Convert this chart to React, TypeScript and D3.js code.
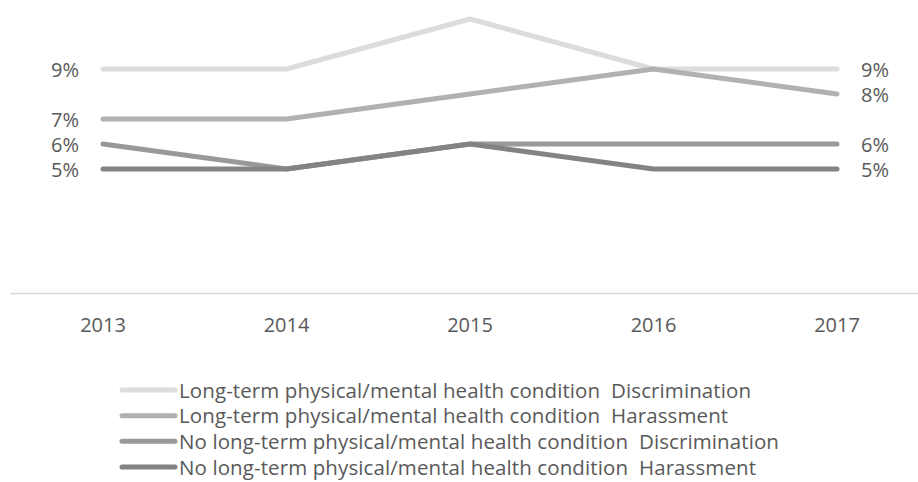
import React from "react";
import * as d3 from "d3";

const years = ["2013", "2014", "2015", "2016", "2017"];
const seriesNames = [
  "Long-term physical/mental health condition  Discrimination",
  "Long-term physical/mental health condition  Harassment",
  "No long-term physical/mental health condition  Discrimination",
  "No long-term physical/mental health condition  Harassment",
];
const ltDiscrimination = [9, 9, 11, 9, 9];
const ltHarassment = [7, 7, 8, 9, 8];
const noLtDiscrimination = [6, 5, 6, 6, 6];
const noLtHarassment = [5, 5, 6, 5, 5];
const seriesValues = [ltDiscrimination, ltHarassment, noLtDiscrimination, noLtHarassment];
const colors = ["#dcdcdc", "#b1b1b1", "#999999", "#838383"];

const W = 918;
const H = 482;
const FONT = "'Open Sans', 'Segoe UI', sans-serif";
const TEXT = "#595959";

export default function App() {
  const x = d3.scalePoint<string>().domain(years).range([103, 837]);
  const y = d3.scaleLinear().domain([0, 11]).range([294, 19]);
  const line = d3
    .line<number>()
    .x((_, i) => x(years[i]) as number)
    .y((d) => y(d));

  const first = seriesValues.map((s) => s[0]);
  const last = seriesValues.map((s) => s[s.length - 1]);
  const uniq = (arr: number[]) => Array.from(new Set(arr));

  const legendY = d3.scaleLinear().domain([0, 3]).range([390, 467]);

  return (
    <svg
      width={W}
      height={H}
      style={{ position: "absolute", left: 0, top: 0, background: "#fff" }}
    >
      <line x1={10} x2={918} y1={293.5} y2={293.5} stroke="#d9d9d9" strokeWidth={1.5} />
      {years.map((yr) => (
        <text
          key={yr}
          x={x(yr)}
          y={332}
          textAnchor="middle"
          fontFamily={FONT}
          fontSize={20}
          fill={TEXT}
        >
          {yr}
        </text>
      ))}
      {seriesValues.map((s, i) => (
        <path
          key={i}
          d={line(s) || ""}
          fill="none"
          stroke={colors[i]}
          strokeWidth={5}
          strokeLinecap="round"
          strokeLinejoin="round"
        />
      ))}
      {uniq(first).map((v) => (
        <text
          key={"l" + v}
          x={79}
          y={y(v) + 7.5}
          textAnchor="end"
          fontFamily={FONT}
          fontSize={20}
          fill={TEXT}
        >
          {v}%
        </text>
      ))}
      {uniq(last).map((v) => (
        <text
          key={"r" + v}
          x={861}
          y={y(v) + 7.5}
          textAnchor="start"
          fontFamily={FONT}
          fontSize={20}
          fill={TEXT}
        >
          {v}%
        </text>
      ))}
      {seriesNames.map((name, i) => (
        <g key={name} transform={`translate(0,${legendY(i)})`}>
          <line x1={122} x2={175} y1={0} y2={0} stroke={colors[i]} strokeWidth={5} strokeLinecap="round" />
          <text
            x={179}
            y={7.5}
            fontFamily={FONT}
            fontSize={20.5}
            letterSpacing={0.1}
            fill={TEXT}
            style={{ whiteSpace: "pre" }}
          >
            {name}
          </text>
        </g>
      ))}
    </svg>
  );
}
